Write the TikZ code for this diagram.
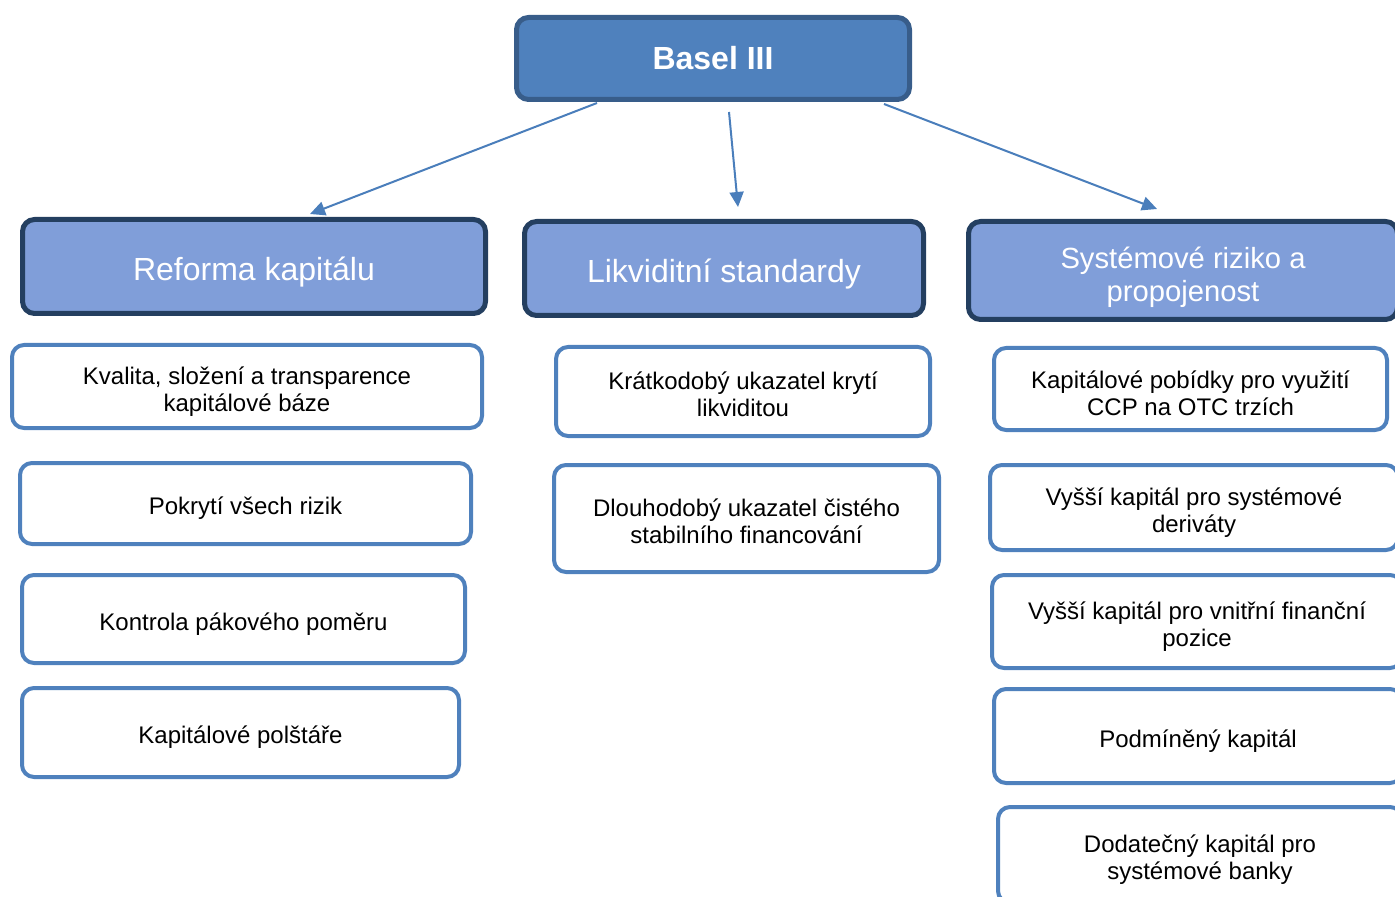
\documentclass[tikz,border=0pt]{standalone}
\usepackage{fontspec}
\setmainfont{Liberation Sans}
\usetikzlibrary{arrows.meta}
\definecolor{topfill}{HTML}{4F81BD}
\definecolor{topline}{HTML}{385D8A}
\definecolor{headfill}{HTML}{809ED9}
\definecolor{headline}{HTML}{243F60}
\definecolor{itemline}{HTML}{4F81BD}
\definecolor{arrowcol}{HTML}{4A7EBB}
\newcommand\lift[1]{\rule{0pt}{#1}}
\begin{document}
\begin{tikzpicture}[x=0.5pt,y=-0.5pt,>={Triangle[length=7.5pt,width=7pt]},line join=round,
	wh/.style 2 args={minimum width=#1pt,minimum height=#2pt},
	topbox/.style={draw=topline,fill=topfill,line width=2.5pt,rounded corners=6pt,inner sep=0pt,
		text=white,font=\fontsize{16pt}{18pt}\selectfont\bfseries},
	headbox/.style={draw=headline,fill=headfill,line width=2.5pt,rounded corners=6pt,inner sep=0pt,
		align=center,text=white,font=\fontsize{16pt}{16.5pt}\selectfont,
		execute at begin node={\rule{0pt}{17pt}},execute at end node={\rule[-3.4pt]{0pt}{0pt}}},
	itembox/.style={draw=itemline,fill=white,line width=2pt,rounded corners=6pt,inner sep=0pt,
		align=center,font=\fontsize{12pt}{13.5pt}\selectfont,
		execute at begin node={\rule{0pt}{14pt}},execute at end node={\rule[-2.6pt]{0pt}{0pt}}},
	arr/.style={->,draw=arrowcol,fill=arrowcol,line width=1pt}]
	\useasboundingbox (0,0) rectangle (1395,897);
	\clip (0,0) rectangle (1395,897);
	% top
	\node[topbox,wh={196.5}{41}] (basel) at (713,58.5) {Basel III};
	% three pillars
	\node[headbox,wh={231.5}{47}] (reforma) at (254,266.5) {Reforma kapitálu};
	\node[headbox,wh={199.5}{47}] (likvid) at (724,268.5) {Likviditní standardy};
	\node[headbox,wh={214.5}{49},font=\fontsize{14.6pt}{16.5pt}\selectfont] (system) at (1183,270.5) {\lift{17.5pt}Systémové riziko a\\propojenost};
	% left column
	\node[itembox,wh={235}{41.5}] (kvalita) at (247,386.5) {\lift{14.5pt}Kvalita, složení a transparence\\kapitálové báze};
	\node[itembox,wh={225.5}{40.5}] (pokryti) at (245.5,503.5) {Pokrytí všech rizik};
	\node[itembox,wh={221.5}{44}] (kontrola) at (243.5,619) {Kontrola pákového poměru};
	\node[itembox,wh={218.5}{44.5}] (polstare) at (240.5,732.5) {Kapitálové polštáře};
	% middle column
	\node[itembox,wh={187}{44.5}] (kratko) at (743,391.5) {\lift{14.5pt}Krátkodobý ukazatel krytí\\likviditou};
	\node[itembox,wh={192.5}{53.5}] (dlouho) at (746.5,518.5) {\lift{14.5pt}Dlouhodobý ukazatel čistého\\stabilního financování};
	% right column
	\node[itembox,wh={196.5}{41}] (pobidky) at (1190.5,389) {\lift{16pt}Kapitálové pobídky pro využití\\CCP na OTC trzích};
	\node[itembox,wh={204}{42.5}] (derivaty) at (1194,507.5) {\lift{14.5pt}Vyšší kapitál pro systémové\\deriváty};
	\node[itembox,wh={205}{46.5}] (vnitrni) at (1197,621.5) {\lift{14.5pt}Vyšší kapitál pro vnitřní finanční\\pozice};
	\node[itembox,wh={204}{47}] (podm) at (1198,736) {Podmíněný kapitál};
	\node[itembox,wh={202}{48}] (dodat) at (1200,855) {\lift{13.5pt}Dodatečný kapitál pro\\systémové banky};
	% connectors
	\path
	(597,103) coordinate (b-l)
	(729,112) coordinate (b-m)
	(884,104) coordinate (b-r)
	(310,214) coordinate (reforma-in)
	(738,207) coordinate (likvid-in)
	(1157,209) coordinate (system-in);
	\draw[arr] (b-l)--(reforma-in);
	\draw[arr] (b-m)--(likvid-in);
	\draw[arr] (b-r)--(system-in);
\end{tikzpicture}
\end{document}
